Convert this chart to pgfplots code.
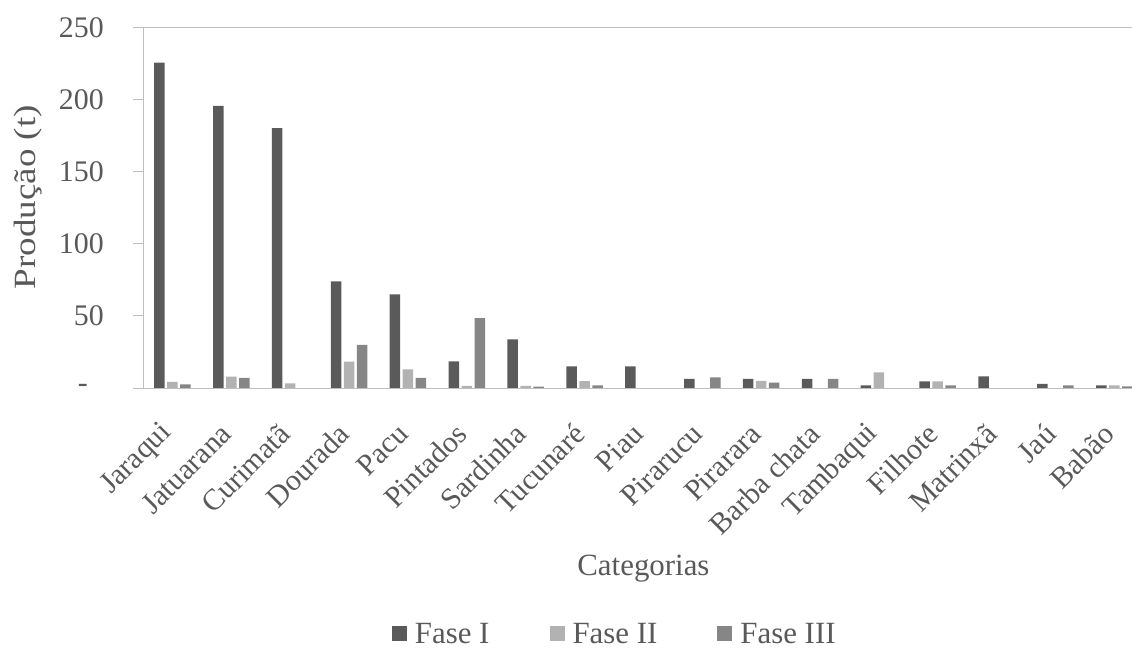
\documentclass[border=0pt]{standalone}
\usepackage{pgfplots}
\pgfplotsset{compat=1.18}
\usepackage{fontspec}
\setmainfont{Liberation Serif}
\definecolor{txt}{RGB}{89,89,89}
\definecolor{axl}{RGB}{191,191,191}
\definecolor{f1}{RGB}{90,90,90}
\definecolor{f2}{RGB}{178,178,178}
\definecolor{f3}{RGB}{134,134,134}
\begin{document}
\begin{tikzpicture}
\path[use as bounding box] (0,0) rectangle (1132bp,648bp);
\begin{axis}[
  at={(143bp,260bp)}, anchor=south west,
  scale only axis, width=989bp, height=360bp,
  xmin=-0.5, xmax=16.3, ymin=0, ymax=250,
  ybar=2.5bp, bar width=10.5bp,
  axis x line*=bottom, axis y line*=left,
  axis line style={draw=axl, line width=1bp, -},
  xtick={0,...,16},
  xticklabels={Jaraqui,Jatuarana,Curimatã,Dourada,Pacu,Pintados,Sardinha,Tucunaré,Piau,Pirarucu,Pirarara,Barba chata,Tambaqui,Filhote,Matrinxã,Jaú,Babão},
  xtick style={draw=none},
  ytick={50,100,150,200,250},
  yticklabels={50,100,150,200,250},
  extra y ticks={0},
  extra y tick labels={-},
  extra y tick style={yticklabel style={xshift=-16bp}},
  ytick style={draw=axl, line width=1bp},
  tick align=outside, major tick length=10bp,
  tick label style={font=\fontsize{30}{34}\selectfont, text=txt},
  yticklabel style={inner sep=0pt, xshift=-29bp},
  xticklabel style={font=\fontsize{30}{34}\selectfont, inner sep=0pt, xshift=-5bp, yshift=-31bp, rotate=45, anchor=east},
  ylabel={\scalebox{1.2}[1]{Produção (t)}},
  ylabel style={font=\fontsize{31}{35}\selectfont, text=txt, at={(axis description cs:-0.116,0.53)}, anchor=center, rotate=0},
  xlabel={Categorias},
  xlabel style={font=\fontsize{31}{35}\selectfont, text=txt, at={(axis description cs:0.506,-0.503)}, anchor=center},
  legend style={at={(axis description cs:0.476,-0.683)}, anchor=center, draw=none, fill=none,
    legend columns=3, font=\fontsize{31}{35}\selectfont, text=txt, inner sep=0pt,
    nodes={inner sep=0pt},
    /tikz/every odd column/.append style={column sep=8bp},
    /tikz/every even column/.append style={column sep=60bp}},
  legend image code/.code={\draw[#1, draw=none] (0bp,-7.5bp) rectangle (15bp,7.5bp);},
]
\addplot[fill=f1, draw=none] coordinates {(0,226) (1,196) (2,180.5) (3,74) (4,65) (5,18.5) (6,33.7) (7,15) (8,15) (9,6.3) (10,6.3) (11,6.3) (12,1.9) (13,4.6) (14,8.1) (15,2.8) (16,1.9)};
\addplot[fill=f2, draw=none] coordinates {(0,4.2) (1,7.9) (2,3.2) (3,18.3) (4,13) (5,1.5) (6,1.5) (7,4.7) (10,4.9) (12,10.9) (13,4.6) (16,1.9)};
\addplot[fill=f3, draw=none] coordinates {(0,2.5) (1,7) (3,30) (4,7) (5,48.5) (6,1) (7,1.9) (9,7.4) (10,3.7) (11,6.3) (13,1.9) (15,1.9) (16,1.2)};
\legend{Fase I,Fase II,Fase III}
\draw[axl, line width=1bp] (axis cs:-0.5,250) -- (axis cs:16.3,250);
\end{axis}
\end{tikzpicture}
\end{document}
